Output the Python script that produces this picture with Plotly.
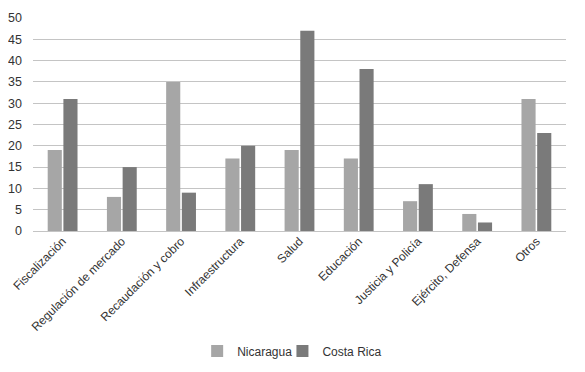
import plotly.graph_objects as go

categories = ["Fiscalización", "Regulación de mercado", "Recaudación y cobro", "Infraestructura",
              "Salud", "Educación", "Justicia y Policía", "Ejército, Defensa", "Otros"]
nicaragua = [19, 8, 35, 17, 19, 17, 7, 4, 31]
costa_rica = [31, 15, 9, 20, 47, 38, 11, 2, 23]
y_ticks = [0, 5, 10, 15, 20, 25, 30, 35, 40, 45, 50]

fig = go.Figure()
fig.add_trace(go.Bar(name="Nicaragua", x=categories, y=nicaragua, legend="legend",
                     marker=dict(color="#A6A6A6", line=dict(width=0))))
fig.add_trace(go.Bar(name="Costa Rica", x=categories, y=costa_rica, legend="legend2",
                     marker=dict(color="#7A7A7A", line=dict(width=0))))

leg_common = dict(orientation="h", xanchor="left", y=-0.563, yanchor="middle",
                  font=dict(size=12), itemwidth=30, bgcolor="rgba(0,0,0,0)")

fig.update_layout(
    width=577, height=364,
    margin=dict(l=25, r=19, t=10, b=141, autoexpand=False),
    paper_bgcolor="white", plot_bgcolor="white",
    barmode="group", bargap=0.47, bargroupgap=0.1,
    font=dict(family="Liberation Sans, Arial, sans-serif", color="#333333"),
    showlegend=True,
    legend=dict(x=0.308, **leg_common),
    legend2=dict(x=0.468, **leg_common),
)
fig.update_xaxes(tickangle=-45, tickfont=dict(size=12), showline=False, ticks="", showgrid=False,
                 automargin=False)
fig.update_yaxes(range=[0, 50], tickvals=y_ticks, tickfont=dict(size=12.5), showgrid=True,
                 gridcolor="#C4C4C4", gridwidth=1, zeroline=True, zerolinecolor="#C4C4C4", zerolinewidth=1,
                 ticks="", showline=False, automargin=False, ticklabelstandoff=10)

fig.write_html("out.html")
